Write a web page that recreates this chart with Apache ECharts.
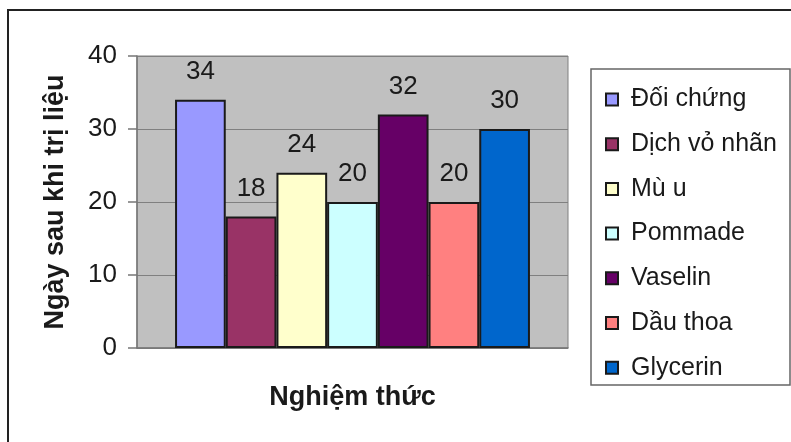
<!DOCTYPE html>
<html>
<head>
<meta charset="utf-8">
<script src="https://cdn.jsdelivr.net/npm/echarts@6/dist/echarts.min.js"></script>
<style>
  html, body { margin: 0; padding: 0; background: #fff; }
  #chart { width: 791px; height: 442px; }
</style>
</head>
<body>
<div id="chart"></div>
<script>
// dữ liệu
var categories = [''];
var seriesNames = ['Đối chứng', 'Dịch vỏ nhãn', 'Mù u', 'Pommade', 'Vaselin', 'Dầu thoa', 'Glycerin'];
var seriesValues = [34, 18, 24, 20, 32, 20, 30];
var seriesColors = ['#9999FF', '#993366', '#FFFFCC', '#CCFFFF', '#660066', '#FF8080', '#0066CC'];
var yTicks = [0, 10, 20, 30, 40];

var font = 'Liberation Sans, Arial, sans-serif';

var series = [];
for (var i = 0; i < seriesNames.length; i++) {
    series.push({
        name: seriesNames[i],
        type: 'bar',
        data: [seriesValues[i]],
        barWidth: 50.7,
        barGap: '0%',
        itemStyle: {
            color: seriesColors[i],
            borderColor: '#1a1a1a',
            borderWidth: 2
        },
        label: {
            show: true,
            position: 'top',
            distance: 15,
            fontSize: 26,
            fontFamily: font,
            color: '#1a1a1a'
        }
    });
}

var myChart = echarts.init(document.getElementById('chart'));
var option = {
    animation: false,
    graphic: [
        {
            type: 'rect',
            shape: { x: 8, y: 10, width: 800, height: 450 },
            style: { fill: 'none', stroke: '#222', lineWidth: 2 },
            z: 0
        },
        {
            type: 'rect',
            shape: { x: 591, y: 69, width: 199, height: 316 },
            style: { fill: '#fff', stroke: '#666', lineWidth: 1.5 },
            z: 0
        }
    ],
    grid: {
        left: 137,
        top: 56,
        right: 223,
        bottom: 94,
        show: true,
        backgroundColor: '#C0C0C0',
        borderColor: '#808080',
        borderWidth: 1
    },
    legend: {
        orient: 'vertical',
        left: 600,
        top: 82,
        itemWidth: 12,
        itemHeight: 12,
        itemGap: 19.7,
        icon: 'rect',
        data: seriesNames,
        textStyle: {
            fontSize: 25,
            fontFamily: font,
            color: '#1a1a1a',
            padding: [0, 0, 0, 8]
        },
        z: 5
    },
    xAxis: {
        type: 'category',
        data: categories,
        name: 'Nghiệm thức',
        nameLocation: 'middle',
        nameGap: 36,
        nameTextStyle: {
            fontSize: 27,
            fontWeight: 'bold',
            fontFamily: font,
            color: '#1a1a1a'
        },
        axisLine: { lineStyle: { color: '#777', width: 1.5 } },
        axisTick: { show: false },
        axisLabel: { show: false }
    },
    yAxis: {
        type: 'value',
        min: yTicks[0],
        max: yTicks[yTicks.length - 1],
        interval: 10,
        name: 'Ngày sau khi trị liệu',
        nameLocation: 'middle',
        nameRotate: 90,
        nameGap: 68,
        nameTextStyle: {
            fontSize: 27,
            fontWeight: 'bold',
            fontFamily: font,
            color: '#1a1a1a'
        },
        axisLine: { show: true, lineStyle: { color: '#777', width: 1.5 } },
        axisTick: { show: true, length: 9, lineStyle: { color: '#777', width: 1.5 } },
        axisLabel: {
            margin: 20,
            fontSize: 26,
            fontFamily: font,
            color: '#1a1a1a'
        },
        splitLine: { lineStyle: { color: '#808080', width: 1 } }
    },
    series: series
};
myChart.setOption(option, true);
</script>
</body>
</html>
